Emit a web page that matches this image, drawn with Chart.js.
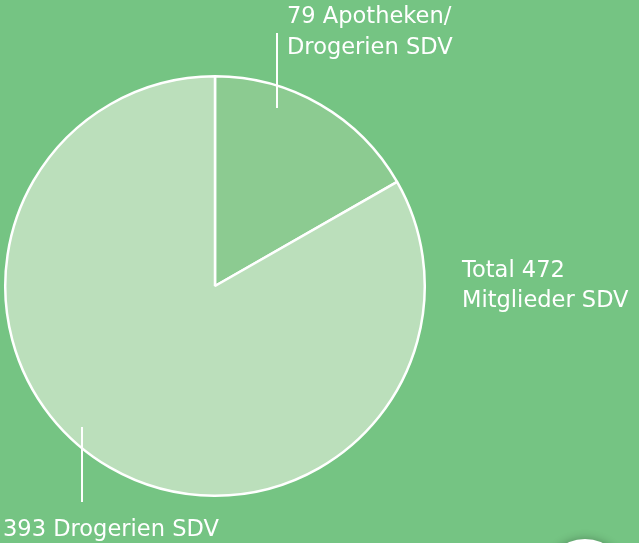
<!DOCTYPE html>
<html>
<head>
<meta charset="utf-8">
<script src="https://cdn.jsdelivr.net/npm/chart.js@4.4.1/dist/chart.umd.min.js"></script>
<style>
html,body{margin:0;padding:0;background:#75c483;}
#wrap{position:relative;width:639px;height:543px;overflow:hidden;}
canvas{display:block;}
</style>
</head>
<body>
<div id="wrap"><canvas id="c" width="639" height="543"></canvas></div>
<script>
const categories = ["Apotheken/ Drogerien SDV", "Drogerien SDV"];
const values = [79, 393];
const total = 472;
const sliceColors = ["#8ccb91", "#bbdfbb"];

const labelLines = [
  [values[0] + " Apotheken/", "Drogerien SDV"],
  [values[1] + " Drogerien SDV"],
  ["Total " + total, "Mitglieder SDV"]
];

function txt(ctx, s, x, y) {
  ctx.save();
  ctx.translate(x, y);
  ctx.scale(0.98, 1);
  ctx.fillText(s, 0, 0);
  ctx.restore();
}

const labelsPlugin = {
  id: "labelsPlugin",
  afterDraw(chart) {
    const ctx = chart.ctx;
    const a = chart.chartArea;
    const cx = (a.left + a.right) / 2, cy = (a.top + a.bottom) / 2;
    const r = Math.min(a.right - a.left, a.bottom - a.top) / 2;
    ctx.save();
    ctx.strokeStyle = "#ffffff";
    ctx.lineWidth = 2;
    ctx.fillStyle = "#ffffff";
    ctx.font = "23px 'DejaVu Sans', Verdana, sans-serif";
    ctx.textBaseline = "alphabetic";
    ctx.textAlign = "left";
    // top label
    ctx.beginPath();
    ctx.moveTo(cx + 62, 33); ctx.lineTo(cx + 62, cy - r + 33); ctx.stroke();
    txt(ctx, labelLines[0][0], cx + 72, 23);
    txt(ctx, labelLines[0][1], cx + 72, 54);
    // bottom label
    ctx.beginPath();
    ctx.moveTo(cx - 133, cy + r - 70); ctx.lineTo(cx - 133, cy + r + 5); ctx.stroke();
    txt(ctx, labelLines[1][0], 3, 536);
    // total
    txt(ctx, labelLines[2][0], cx + r + 36, 277);
    txt(ctx, labelLines[2][1], cx + r + 36, 307);
    // decorative white circle bottom right
    ctx.beginPath();
    ctx.shadowColor = "rgba(0,0,0,0.3)";
    ctx.shadowBlur = 10;
    ctx.arc(585, 580, 41, 0, Math.PI * 2);
    ctx.fill();
    ctx.restore();
  }
};

new Chart(document.getElementById("c"), {
  type: "pie",
  data: {
    labels: categories,
    datasets: [{
      data: values,
      backgroundColor: sliceColors,
      borderColor: "#ffffff",
      borderWidth: 2.5
    }]
  },
  options: {
    responsive: false,
    animation: false,
    layout: { padding: { left: 4, top: 75, right: 213, bottom: 46 } },
    plugins: { legend: { display: false }, tooltip: { enabled: false } }
  },
  plugins: [labelsPlugin]
});
</script>
</body>
</html>
